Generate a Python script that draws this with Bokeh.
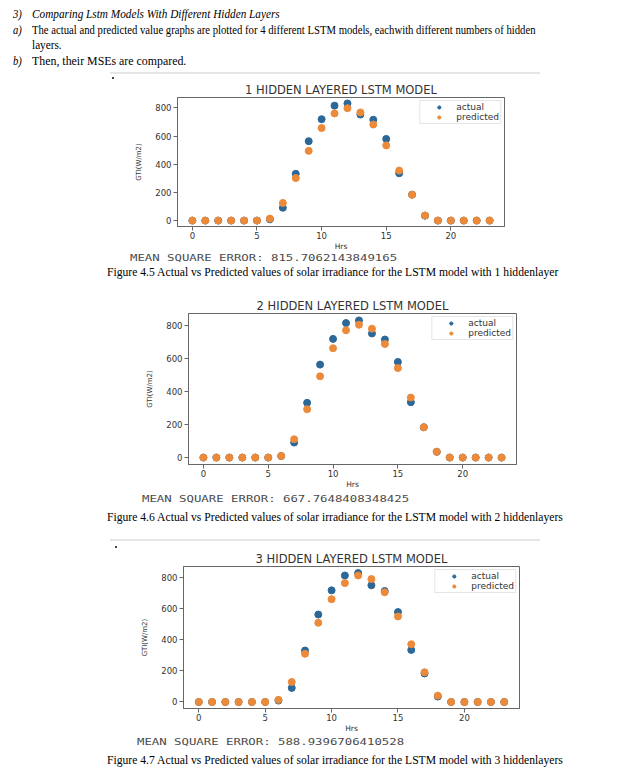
from bokeh.plotting import figure
from bokeh.models import Div, Legend, LegendItem, ColumnDataSource, Range1d, FixedTicker
from bokeh.layouts import column, row
from bokeh.embed import file_html
from bokeh.resources import INLINE

# ---------------- data ----------------
hours = list(range(24))
actual = [0, 0, 0, 0, 0, 0, 9, 91, 332, 564, 720, 816, 832, 753, 716, 580, 336, 184, 35, 0, 0, 0, 0, 0]
pred_1 = [0, 0, 0, 0, 0, 0, 14, 125, 302, 495, 657, 761, 798, 768, 682, 534, 355, 184, 36, 0, 0, 0, 0, 0]
pred_2 = [0, 0, 0, 0, 0, 0, 10, 111, 293, 493, 663, 772, 806, 782, 689, 543, 364, 184, 36, 0, 0, 0, 0, 0]
pred_3 = [0, 0, 0, 0, 0, 0, 14, 129, 311, 511, 663, 767, 816, 793, 708, 552, 372, 192, 41, 0, 0, 0, 0, 0]
titles = ["1 HIDDEN LAYERED LSTM MODEL", "2 HIDDEN LAYERED LSTM MODEL", "3 HIDDEN LAYERED LSTM MODEL"]
mse_values = ["815.7062143849165", "667.7648408348425", "588.9396706410528"]
captions = [
    "Figure 4.5 Actual vs Predicted values of solar irradiance for the LSTM model with 1 hiddenlayer",
    "Figure 4.6 Actual vs Predicted values of solar irradiance for the LSTM model with 2 hiddenlayers",
    "Figure 4.7 Actual vs Predicted values of solar irradiance for the LSTM model with 3 hiddenlayers",
]
x_ticks = [0, 5, 10, 15, 20]
y_ticks = [0, 200, 400, 600, 800]
x_label = "Hrs"
y_label = "GTI(W/m2)"
series_labels = ["actual", "predicted"]

BLUE = "#2b6898"
ORANGE = "#ec8a3a"
AXC = "#666666"
TXC = "#333333"
W = 607


def make_chart(title, pred, left, fw, top, fh, bottom):
    p = figure(width=W, height=top + fh + bottom, output_backend="svg", toolbar_location=None,
               x_range=Range1d(-1.15, 24.15), y_range=Range1d(-42, 874),
               min_border_left=left, min_border_right=W - left - fw,
               min_border_top=top, min_border_bottom=bottom)
    p.title.text = title
    p.title.text_font = "DejaVu Sans"
    p.title.text_font_size = "11.5px"
    p.title.text_font_style = "normal"
    p.title.text_color = TXC
    p.title.align = "center"
    p.title.standoff = 1
    p.title.offset = 0
    src = ColumnDataSource(dict(x=hours, a=actual, p=pred))
    r1 = p.scatter("x", "a", source=src, size=7, fill_color=BLUE, line_color=BLUE)
    r2 = p.scatter("x", "p", source=src, size=7, fill_color=ORANGE, line_color=ORANGE)
    leg = Legend(items=[LegendItem(label=series_labels[0], renderers=[r1]),
                        LegendItem(label=series_labels[1], renderers=[r2])],
                 location="top_right")
    leg.label_text_font = "DejaVu Sans"
    leg.label_text_font_size = "9px"
    leg.label_text_color = TXC
    leg.glyph_width = 35
    leg.glyph_height = 8
    leg.label_height = 8
    leg.label_standoff = 0
    leg.spacing = 0
    leg.padding = 1
    leg.margin = 3
    leg.border_line_color = "#cccccc"
    leg.background_fill_alpha = 0.8
    p.add_layout(leg)
    p.xaxis.ticker = FixedTicker(ticks=x_ticks)
    p.yaxis.ticker = FixedTicker(ticks=y_ticks)
    p.xaxis.axis_label = x_label
    p.yaxis.axis_label = y_label
    for ax in (p.xaxis[0], p.yaxis[0]):
        ax.axis_line_color = AXC
        ax.major_tick_line_color = AXC
        ax.major_tick_out = 4
        ax.major_tick_in = 0
        ax.minor_tick_line_color = None
        ax.major_label_text_font = "DejaVu Sans"
        ax.major_label_text_font_size = "8.5px"
        ax.major_label_text_color = TXC
        ax.axis_label_text_font = "DejaVu Sans"
        ax.axis_label_text_font_style = "normal"
        ax.axis_label_text_color = TXC
    p.xaxis.major_label_standoff = 1
    p.xaxis.axis_label_standoff = 0
    p.xaxis.axis_label_text_font_size = "7.5px"
    p.yaxis.major_label_standoff = 2
    p.yaxis.axis_label_standoff = 9
    p.yaxis.axis_label_text_font_size = "7px"
    p.xgrid.visible = False
    p.ygrid.visible = False
    p.outline_line_color = AXC
    return p


def txt(s, left, top, size, family, sx, color="#000", italic=False):
    style = ("position:absolute;left:%spx;top:%spx;white-space:nowrap;font-family:'%s';"
             "font-size:%spx;line-height:1;color:%s;transform:scaleX(%s);transform-origin:0 0;%s"
             % (left, top, family, size, color, sx, "font-style:italic;" if italic else ""))
    return '<div style="%s">%s</div>' % (style, s)


def box(html, h):
    return Div(text='<div style="position:relative;width:%dpx;height:%dpx;overflow:hidden;">%s</div>' % (W, h, html),
               width=W, height=h, styles={"margin": "0", "padding": "0"})


SERIF = "Liberation Serif"
MONO = "DejaVu Sans Mono"
HS = 12.5


def mse(i, left, top):
    return txt("MEAN SQUARE ERROR: " + mse_values[i], left, top, 8.5, MONO, 1.45, color="#4a4a4a")


def cap(i, left, top):
    return txt(captions[i], left, top, 12, SERIF, 0.97)


def hline(left, top, w):
    return '<div style="position:absolute;left:%dpx;top:%dpx;width:%dpx;height:2px;background:#e6e6e6;"></div>' % (left, top, w)


def dot(left, top):
    return '<div style="position:absolute;left:%dpx;top:%dpx;width:2px;height:2px;background:#444;"></div>' % (left, top)


header_html = (
    txt("3)", 13, 8, HS, SERIF, 0.85, italic=True)
    + txt("Comparing Lstm Models With Different Hidden Layers", 32, 8, HS, SERIF, 0.9, italic=True)
    + txt("a)", 13, 24, HS, SERIF, 0.85, italic=True)
    + txt("The actual and predicted value graphs are plotted for 4 different LSTM models, eachwith different numbers of hidden",
          32, 24, HS, SERIF, 0.855)
    + txt("layers.", 32, 39, HS, SERIF, 0.9)
    + txt("b)", 13, 55, HS, SERIF, 0.85, italic=True)
    + txt("Then, their MSEs are compared.", 32, 55, HS, SERIF, 0.95)
    + hline(110, 72, 430)
    + dot(112, 77)
)
header = box(header_html, 80)

fig1 = make_chart(titles[0], pred_1, 177, 327, 14, 135, 24)
div1 = box(mse(0, 130, 1) + cap(0, 107, 13), 43)
fig2 = make_chart(titles[1], pred_2, 188, 328, 16, 155, 24)
div2 = box(mse(1, 142, 4) + cap(1, 107, 20) + hline(110, 48, 430) + dot(115, 55), 58)
fig3 = make_chart(titles[2], pred_3, 183, 336, 13, 149, 24)
div3 = box(mse(2, 137, 3) + cap(2, 107, 19), 34)

layout = column(header, row(fig1), div1, row(fig2), div2, row(fig3), div3, spacing=0)
open("out.html", "w").write(file_html(layout, INLINE))
